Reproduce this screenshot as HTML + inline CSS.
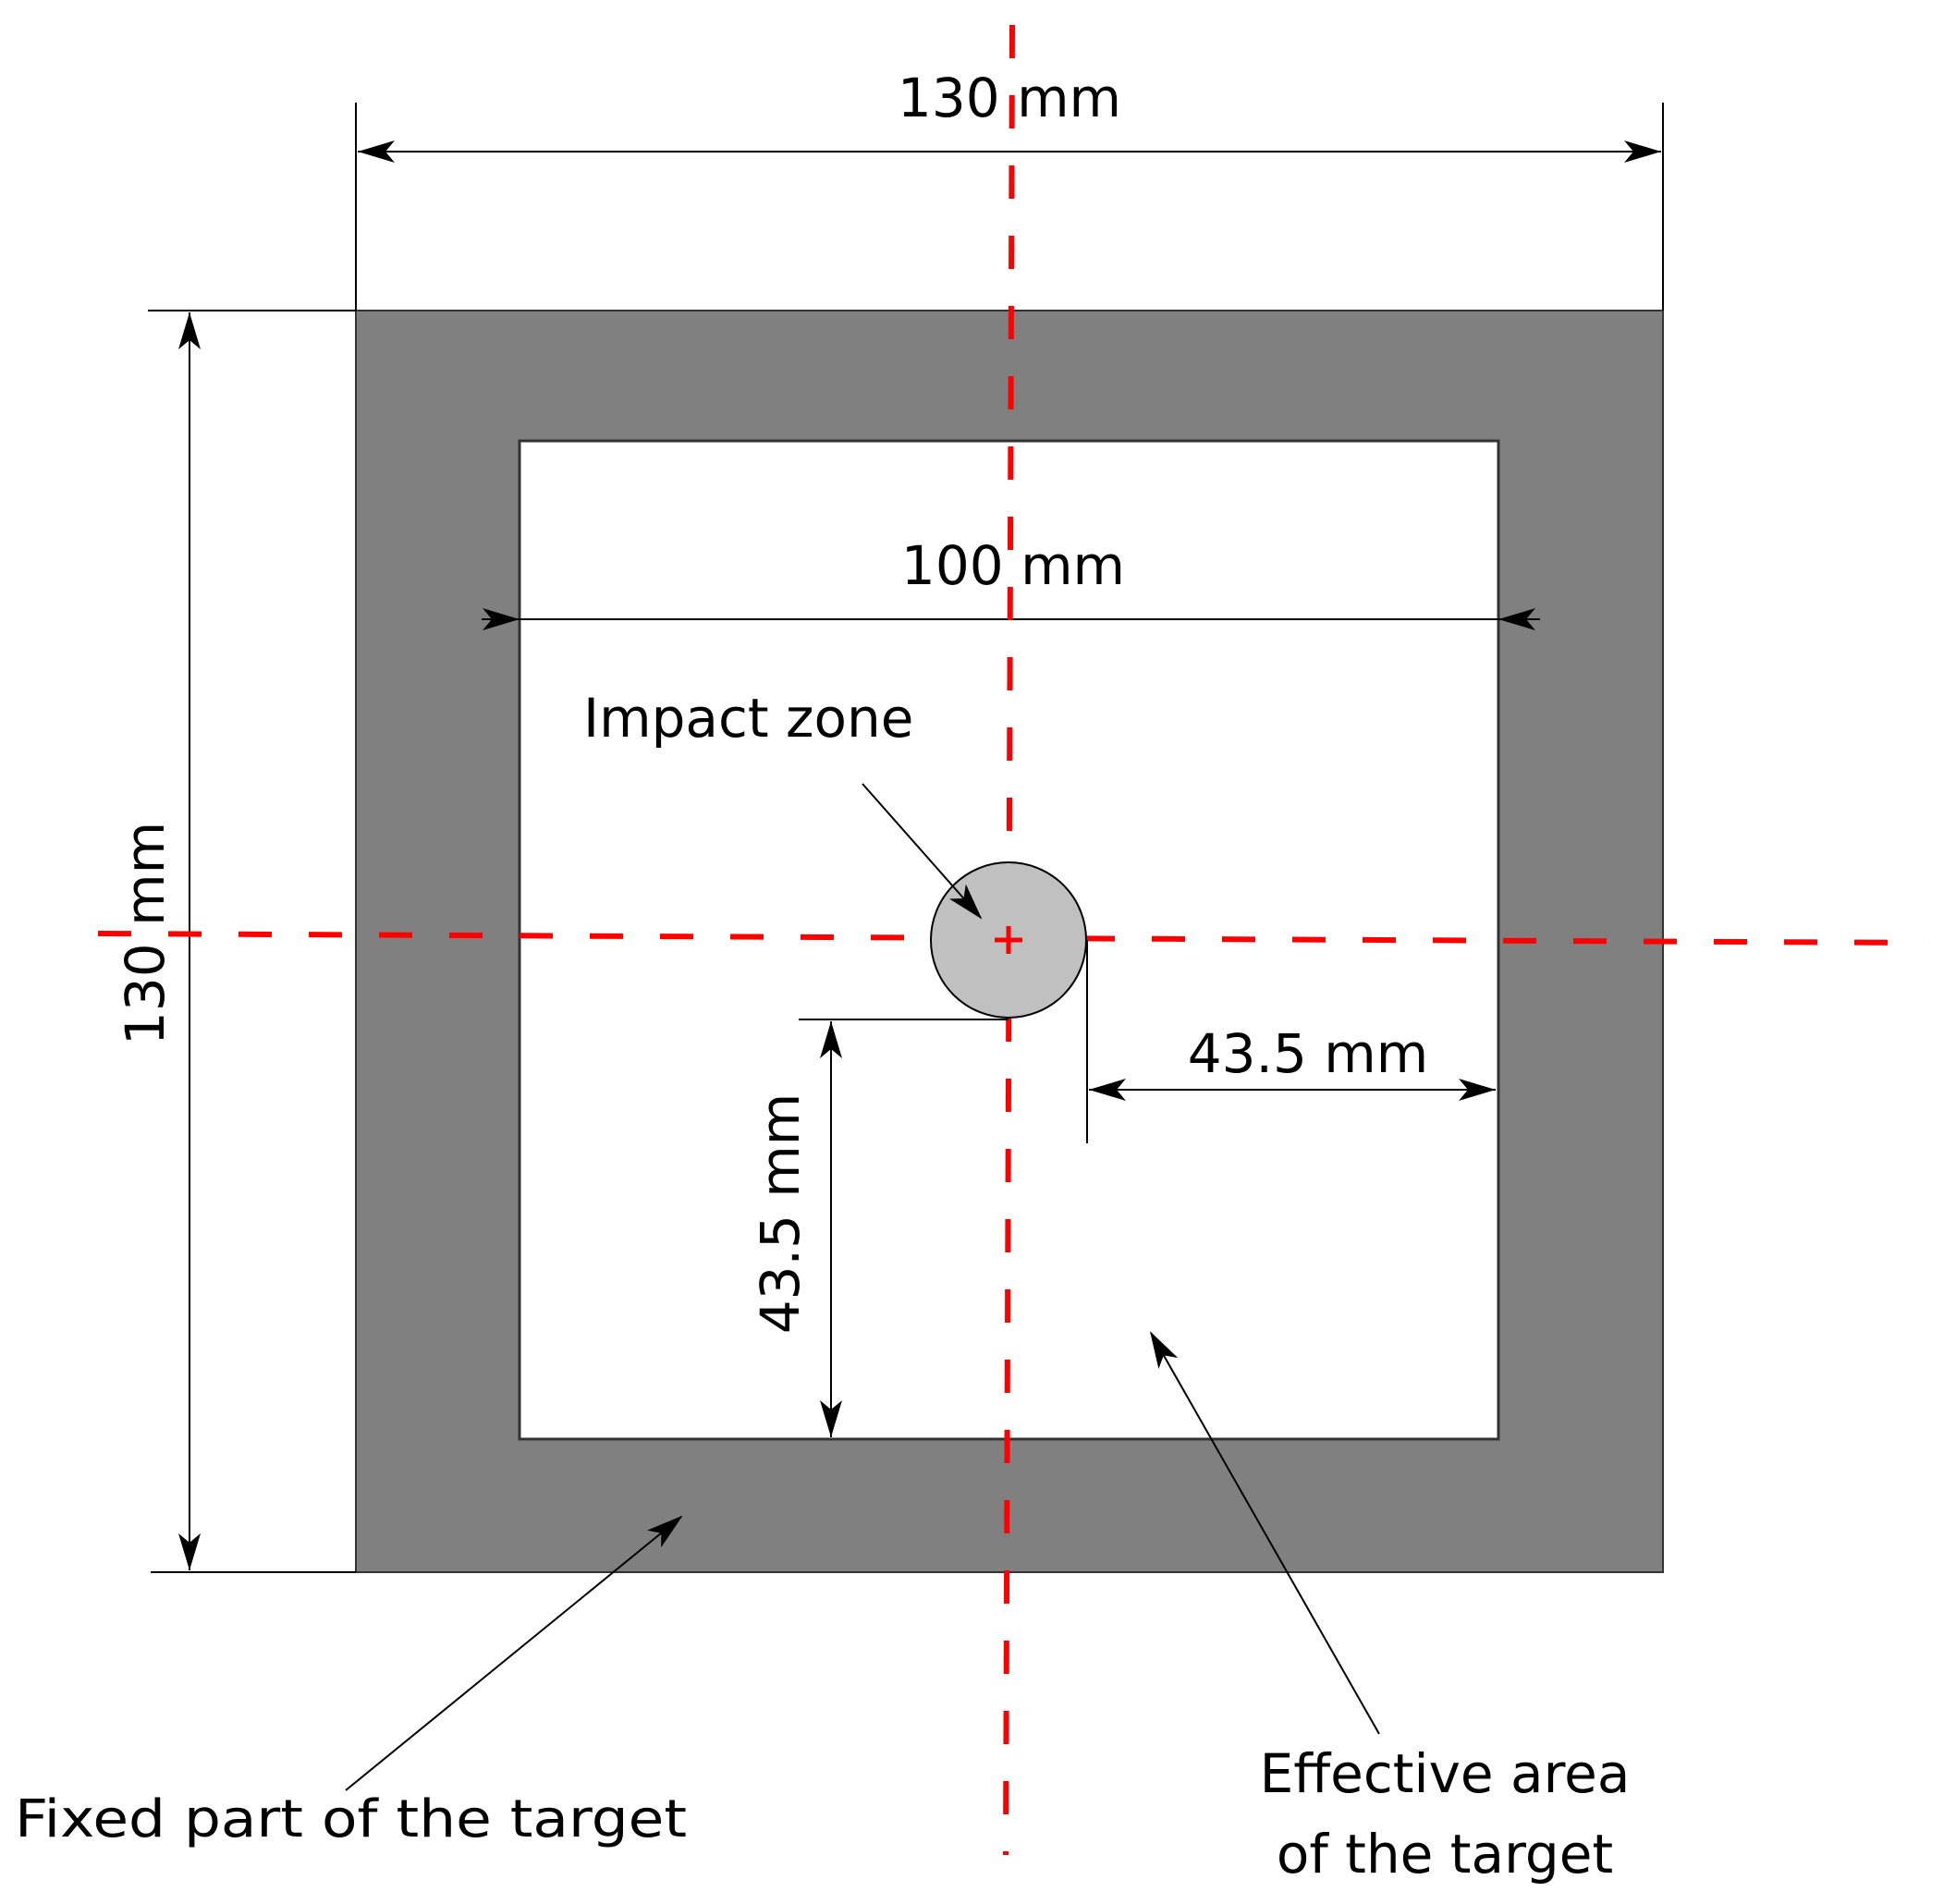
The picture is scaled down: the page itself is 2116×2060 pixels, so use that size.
<!DOCTYPE html>
<html><head><meta charset="utf-8"><style>
html,body{margin:0;padding:0;background:#fff}
svg{display:block}
text{font-family:"DejaVu Sans","Liberation Sans",sans-serif;fill:#000}
</style></head><body>
<svg width="2116" height="2060" viewBox="0 0 2116 2060" xmlns="http://www.w3.org/2000/svg">
<defs>
<marker id="a" viewBox="0 0 40 24" refX="38" refY="12" markerWidth="40" markerHeight="24" markerUnits="userSpaceOnUse" orient="auto">
<path d="M0,0 L40,12 L0,24 L10,12 Z" fill="#000"/>
</marker>
</defs>
<rect x="385" y="336" width="1414" height="1365" fill="#808080" stroke="#333" stroke-width="2"/>
<rect x="562" y="477" width="1059" height="1080" fill="#fff" stroke="#333" stroke-width="3"/>
<line x1="385" y1="111" x2="385" y2="336" stroke="#000" stroke-width="2"/>
<line x1="1799" y1="111" x2="1799" y2="336" stroke="#000" stroke-width="2"/>
<line x1="387" y1="164" x2="1797" y2="164" stroke="#000" stroke-width="2"/>
<path d="M387,164 l40,-12 l-10,12 l10,12z M1797,164 l-40,-12 l10,12 l-10,12z" fill="#000"/>
<text x="1092" y="126" font-size="58" text-anchor="middle">130 mm</text>
<line x1="160" y1="336" x2="385" y2="336" stroke="#000" stroke-width="2"/>
<line x1="163" y1="1701" x2="385" y2="1701" stroke="#000" stroke-width="2"/>
<line x1="205" y1="338" x2="205" y2="1699" stroke="#000" stroke-width="2"/>
<path d="M205,338 l-12,40 l12,-10 l12,10z M205,1699 l-12,-40 l12,10 l12,-10z" fill="#000"/>
<text transform="translate(177,1010) rotate(-90)" font-size="58" text-anchor="middle">130 mm</text>
<line x1="521" y1="670" x2="1666" y2="670" stroke="#000" stroke-width="2"/>
<path d="M562,670 l-40,-12 l10,12 l-10,12z M1621,670 l40,-12 l-10,12 l10,12z" fill="#000"/>
<text x="1096" y="632" font-size="58" text-anchor="middle">100 mm</text>
<line x1="1095" y1="27" x2="1088" y2="2007" stroke="#ff0000" stroke-width="6" stroke-dasharray="36,40"/>
<line x1="106" y1="1010" x2="2082" y2="1020" stroke="#ff0000" stroke-width="6" stroke-dasharray="36,40"/>
<circle cx="1091" cy="1017" r="84" fill="#c0c0c0" stroke="#000" stroke-width="2"/>
<line x1="1091" y1="1002" x2="1091" y2="1032" stroke="#ff0000" stroke-width="5"/>
<line x1="1076" y1="1017" x2="1106" y2="1017" stroke="#ff0000" stroke-width="5"/>
<text x="631" y="797" font-size="58">Impact zone</text>
<line x1="933" y1="848" x2="1061" y2="993" stroke="#000" stroke-width="2" marker-end="url(#a)"/>
<line x1="1176" y1="1017" x2="1176" y2="1237" stroke="#000" stroke-width="2"/>
<line x1="1178" y1="1179" x2="1618" y2="1179" stroke="#000" stroke-width="2"/>
<path d="M1178,1179 l40,-12 l-10,12 l10,12z M1618,1179 l-40,-12 l10,12 l-10,12z" fill="#000"/>
<text x="1415" y="1160" font-size="58" text-anchor="middle">43.5 mm</text>
<line x1="864" y1="1103" x2="1091" y2="1103" stroke="#000" stroke-width="2"/>
<line x1="899" y1="1105" x2="899" y2="1555" stroke="#000" stroke-width="2"/>
<path d="M899,1105 l-12,40 l12,-10 l12,10z M899,1555 l-12,-40 l12,10 l12,-10z" fill="#000"/>
<text transform="translate(864,1313) rotate(-90)" font-size="58" text-anchor="middle">43.5 mm</text>
<line x1="374" y1="1937" x2="737" y2="1641" stroke="#000" stroke-width="2" marker-end="url(#a)"/>
<text x="16" y="1987" font-size="56" textLength="727" lengthAdjust="spacingAndGlyphs">Fixed part of the target</text>
<line x1="1492" y1="1876" x2="1245" y2="1442" stroke="#000" stroke-width="2" marker-end="url(#a)"/>
<text x="1563" y="1939" font-size="58" text-anchor="middle">Effective area</text>
<text x="1563" y="2026" font-size="58" text-anchor="middle">of the target</text>
</svg>
</body></html>
